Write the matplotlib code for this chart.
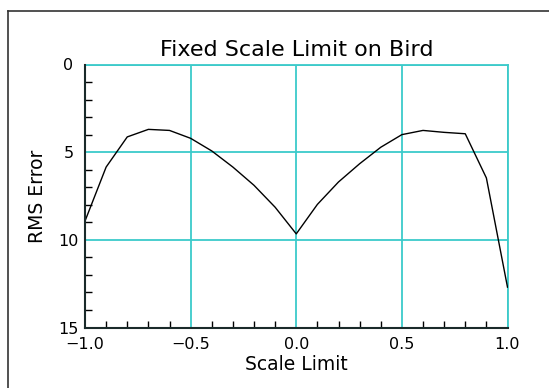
import numpy as np
import matplotlib
matplotlib.use("Agg")
import matplotlib.pyplot as plt
from matplotlib.lines import Line2D
from matplotlib.ticker import MultipleLocator

# data
scale_limit = [-1.0, -0.9, -0.8, -0.7, -0.6, -0.5, -0.4, -0.3, -0.2, -0.1, 0.0,
               0.1, 0.2, 0.3, 0.4, 0.5, 0.6, 0.7, 0.8, 0.9, 1.0]
rms_error = [8.93, 5.85, 4.13, 3.70, 3.76, 4.21, 4.93, 5.85, 6.89, 8.14, 9.66,
             7.98, 6.70, 5.66, 4.72, 4.00, 3.76, 3.87, 3.95, 6.47, 12.70]
x_ticks = [-1.0, -0.5, 0.0, 0.5, 1.0]
x_labels = ["\u22121.0", "\u22120.5", "0.0", "0.5", "1.0"]
y_ticks = [0, 5, 10, 15]

grid_col = "#3ccaca"
W, H = 549, 388

fig = plt.figure(figsize=(W / 100, H / 100), dpi=100)
ax = fig.add_axes([85 / W, 1 - 327.5 / H, (507.5 - 85) / W, (327.5 - 64.5) / H])

ax.plot(scale_limit, rms_error, color="black", lw=1.0, zorder=3)

ax.set_xlim(-1, 1)
ax.set_ylim(15, 0)
ax.set_xticks(x_ticks)
ax.set_yticks(y_ticks)
ax.set_xticklabels(x_labels)
ax.xaxis.set_minor_locator(MultipleLocator(0.1))
ax.yaxis.set_minor_locator(MultipleLocator(1))
ax.tick_params(which="major", length=0, labelsize=11.5)
ax.tick_params(axis="x", which="major", pad=7)
ax.tick_params(axis="y", which="major", pad=12)
for lbl in ax.get_yticklabels():
    lbl.set_horizontalalignment("center")
ax.tick_params(which="minor", direction="in", length=5, width=1, color="black")

ax.grid(True, which="major", color=grid_col, lw=1.3)
for side in ("top", "right"):
    ax.spines[side].set_color(grid_col)
    ax.spines[side].set_linewidth(1.3)
for side in ("left", "bottom"):
    ax.spines[side].set_color("#1a2a2a")
    ax.spines[side].set_linewidth(1.5)
    ax.spines[side].set_zorder(4)

ax.set_title("Fixed Scale Limit on Bird", fontsize=16, pad=6)
ax.set_xlabel("Scale Limit", fontsize=13.5, labelpad=2)
ax.set_ylabel("RMS Error", fontsize=13.5, labelpad=8)

# frame around the figure, cut off at the right and bottom
fig.add_artist(Line2D([7.5 / W, 7.5 / W], [0, 1 - 11 / H], transform=fig.transFigure,
                      color="#333333", lw=1.2))
fig.add_artist(Line2D([7.5 / W, 1], [1 - 11 / H, 1 - 11 / H], transform=fig.transFigure,
                      color="#333333", lw=1.2))

fig.savefig("out.png", dpi=100)
